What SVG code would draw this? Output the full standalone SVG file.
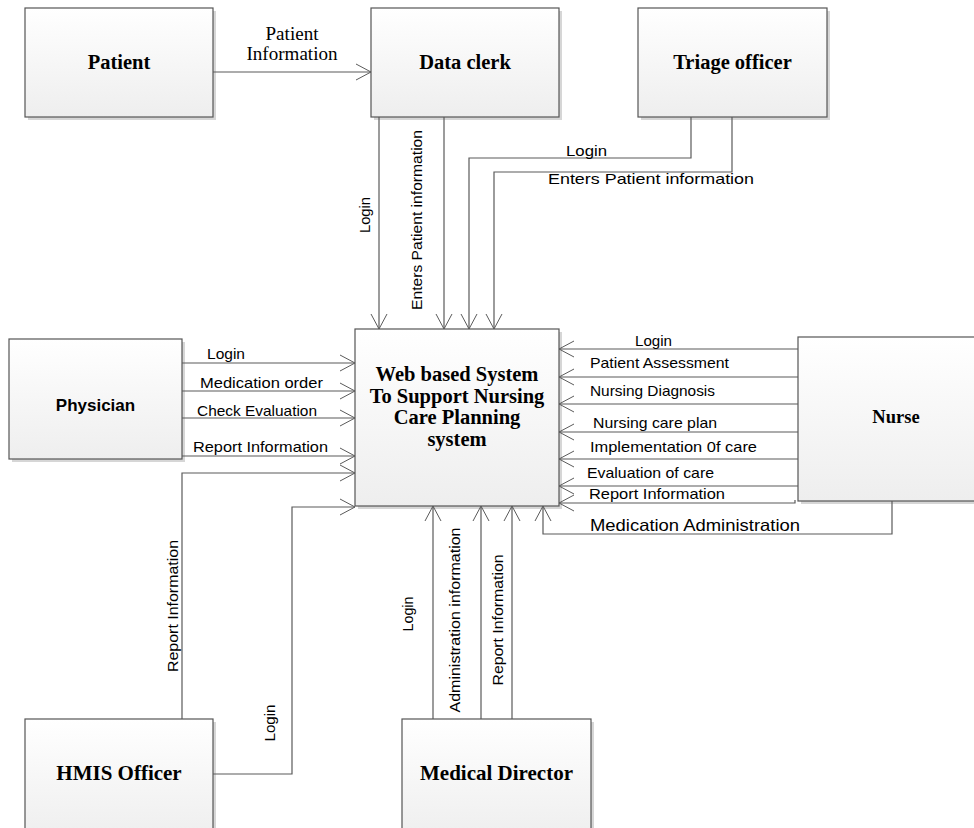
<svg xmlns="http://www.w3.org/2000/svg" width="974" height="828" viewBox="0 0 974 828">
<defs>
<linearGradient id="g" x1="0" y1="0" x2="0" y2="1">
<stop offset="0" stop-color="#ffffff"/>
<stop offset="1" stop-color="#eeeeee"/>
</linearGradient>
<marker id="arr" markerWidth="18" markerHeight="20" refX="15" refY="9" orient="auto" markerUnits="userSpaceOnUse" viewBox="0 0 18 20">
<path d="M0,1 L15,9 L0,17" fill="none" stroke="#5a5a5a" stroke-width="1"/>
</marker>
</defs>
<style>
.box{fill:url(#g);stroke:#555;stroke-width:1.2}
.sh{fill:#d6d6d6}
.t{font-family:"Liberation Serif","Times New Roman",serif;font-weight:bold;font-size:20.5px;fill:#000;text-anchor:middle}
.ts{font-family:"Liberation Sans",Arial,sans-serif;font-weight:bold;font-size:17px;fill:#000;text-anchor:middle}
.c{fill:none;stroke:#5a5a5a;stroke-width:1.2;marker-end:url(#arr)}
.l{font-family:"Liberation Sans",Arial,sans-serif;font-size:15px;fill:#000}
.lv{font-family:"Liberation Sans",Arial,sans-serif;font-size:15px;fill:#000;text-anchor:middle}
.ls{font-family:"Liberation Serif","Times New Roman",serif;font-size:18px;fill:#000;text-anchor:middle}
</style>
<rect width="974" height="828" fill="#fff"/>

<g id="patient">
<rect class="sh" x="28" y="11" width="188" height="109"/>
<rect class="box" x="25" y="8" width="188" height="109"/>
<text class="t" x="119" y="69">Patient</text>
</g>
<g id="data-clerk">
<rect class="sh" x="374" y="11" width="188" height="109"/>
<rect class="box" x="371" y="8" width="188" height="109"/>
<text class="t" x="465" y="69">Data clerk</text>
</g>
<g id="triage-officer">
<rect class="sh" x="641" y="11" width="189" height="109"/>
<rect class="box" x="638" y="8" width="189" height="109"/>
<text class="t" x="732.5" y="69">Triage officer</text>
</g>
<g id="physician">
<rect class="sh" x="12" y="342" width="173" height="120"/>
<rect class="box" x="9" y="339" width="173" height="120"/>
<text class="ts" x="95.5" y="411">Physician</text>
</g>
<g id="system">
<rect class="sh" x="358" y="332" width="204" height="177"/>
<rect class="box" x="355" y="329" width="204" height="177"/>
<text class="t" x="457" y="381">Web based System</text>
<text class="t" x="457" y="402.5">To Support Nursing</text>
<text class="t" x="457" y="424">Care Planning</text>
<text class="t" x="457" y="445.5">system</text>
</g>
<g id="nurse">
<rect class="sh" x="801" y="340" width="180" height="164"/>
<rect class="box" x="798" y="337" width="180" height="164"/>
<text class="t" x="896" y="423" style="font-size:18.5px">Nurse</text>
</g>
<g id="hmis-officer">
<rect class="sh" x="28" y="722" width="188" height="120"/>
<rect class="box" x="25" y="719" width="188" height="120"/>
<text class="t" x="119" y="780" style="font-size:21px">HMIS Officer</text>
</g>
<g id="medical-director">
<rect class="sh" x="405" y="722" width="189" height="120"/>
<rect class="box" x="402" y="719" width="189" height="120"/>
<text class="t" x="496.5" y="780" style="font-size:21px">Medical Director</text>
</g>

<g id="connectors">
<path class="c" d="M213,72 H371"/>
<path class="c" d="M379,117 V329"/>
<path class="c" d="M444,117 V329"/>
<path class="c" d="M691,117 V158 H469 V329"/>
<path class="c" d="M732,117 V172 H494 V329"/>
<path class="c" d="M182,363 H355"/>
<path class="c" d="M182,391 H355"/>
<path class="c" d="M182,418 H355"/>
<path class="c" d="M182,456 H355"/>
<path class="c" d="M182,719 V473 H355"/>
<path class="c" d="M213,774 H292 V507 H355"/>
<path class="c" d="M798,349 H559"/>
<path class="c" d="M798,377 H559"/>
<path class="c" d="M798,404 H559"/>
<path class="c" d="M798,432 H559"/>
<path class="c" d="M798,459 H559"/>
<path class="c" d="M798,486 H559"/>
<path class="c" d="M795,500 V503 H559"/>
<path class="c" d="M892,501 V534 H543 V506"/>
<path class="c" d="M433,719 V506"/>
<path class="c" d="M481,719 V506"/>
<path class="c" d="M512,719 V506"/>
</g>

<g id="labels">
<text class="ls" x="292" y="40" textLength="53" lengthAdjust="spacingAndGlyphs">Patient</text>
<text class="ls" x="292" y="60" textLength="91" lengthAdjust="spacingAndGlyphs">Information</text>
<text class="lv" transform="translate(370,215) rotate(-90)" textLength="36" lengthAdjust="spacingAndGlyphs">Login</text>
<text class="lv" transform="translate(422,220) rotate(-90)" textLength="180" lengthAdjust="spacingAndGlyphs">Enters Patient information</text>
<text class="l" x="566" y="156" textLength="41" lengthAdjust="spacingAndGlyphs">Login</text>
<text class="l" x="548" y="184" textLength="206" lengthAdjust="spacingAndGlyphs">Enters Patient information</text>
<text class="l" x="207" y="359" textLength="38" lengthAdjust="spacingAndGlyphs">Login</text>
<text class="l" x="200" y="388" textLength="123" lengthAdjust="spacingAndGlyphs">Medication order</text>
<text class="l" x="197" y="416" textLength="120" lengthAdjust="spacingAndGlyphs">Check Evaluation</text>
<text class="l" x="193" y="452" textLength="135" lengthAdjust="spacingAndGlyphs">Report Information</text>
<text class="lv" transform="translate(178,606) rotate(-90)" textLength="132" lengthAdjust="spacingAndGlyphs">Report Information</text>
<text class="lv" transform="translate(275,723) rotate(-90)" textLength="37" lengthAdjust="spacingAndGlyphs">Login</text>
<text class="lv" transform="translate(413,614) rotate(-90)" textLength="35" lengthAdjust="spacingAndGlyphs">Login</text>
<text class="lv" transform="translate(460,620) rotate(-90)" textLength="185" lengthAdjust="spacingAndGlyphs">Administration information</text>
<text class="lv" transform="translate(503,620) rotate(-90)" textLength="131" lengthAdjust="spacingAndGlyphs">Report Information</text>
<text class="l" x="635" y="346" textLength="37" lengthAdjust="spacingAndGlyphs">Login</text>
<text class="l" x="590" y="368" textLength="139" lengthAdjust="spacingAndGlyphs">Patient Assessment</text>
<text class="l" x="590" y="396" textLength="125" lengthAdjust="spacingAndGlyphs">Nursing Diagnosis</text>
<text class="l" x="593" y="428" textLength="124" lengthAdjust="spacingAndGlyphs">Nursing care plan</text>
<text class="l" x="590" y="452" textLength="167" lengthAdjust="spacingAndGlyphs">Implementation 0f care</text>
<text class="l" x="587" y="478" textLength="127" lengthAdjust="spacingAndGlyphs">Evaluation of care</text>
<text class="l" x="589" y="499" textLength="136" lengthAdjust="spacingAndGlyphs">Report Information</text>
<text class="l" x="590" y="531" textLength="210" lengthAdjust="spacingAndGlyphs" style="font-size:16.5px">Medication Administration</text>
</g>
</svg>
